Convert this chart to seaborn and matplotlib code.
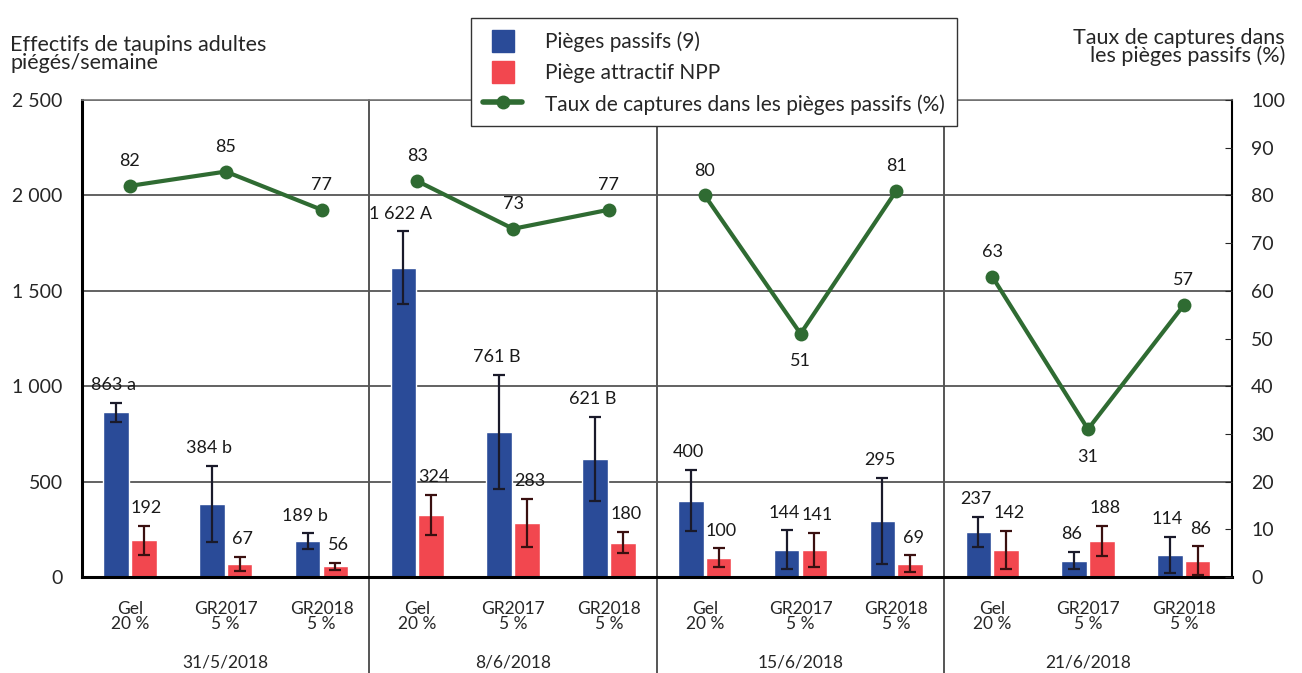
import matplotlib.pyplot as plt
import matplotlib.ticker as mticker
from matplotlib.lines import Line2D
from matplotlib.patches import Patch, Rectangle
from matplotlib.legend_handler import HandlerPatch
import pandas as pd
import seaborn as sns


dates = ["31/5/2018", "8/6/2018", "15/6/2018", "21/6/2018"]
treatments = ["Gel\n20 %", "GR2017\n5 %", "GR2018\n5 %"]

passifs = [863, 384, 189, 1622, 761, 621, 400, 144, 295, 237, 86, 114]
passifs_err = [50, 200, 40, 190, 300, 220, 160, 100, 225, 80, 45, 95]
passifs_lbl = ["863 a", "384 b", "189 b", "1 622 A", "761 B", "621 B",
               "400", "144", "295", "237", "86", "114"]

npp = [192, 67, 56, 324, 283, 180, 100, 141, 69, 142, 188, 86]
npp_err = [75, 38, 18, 105, 125, 55, 50, 90, 45, 100, 80, 75]

taux = [82, 85, 77, 83, 73, 77, 80, 51, 81, 63, 31, 57]

blue = "#2a4b98"
red = "#f2474f"
green = "#2f6b32"

n = len(passifs)
pos = list(range(n))
date_of = [d for d in dates for _ in treatments]

df = pd.DataFrame({
    "pos": pos * 2,
    "val": passifs + npp,
    "piege": ["Pièges passifs (9)"] * n + ["Piège attractif NPP"] * n,
})
df_taux = pd.DataFrame({"pos": pos, "taux": taux, "date": date_of})

sns.set_style("white")
plt.rcParams['font.family'] = ['Lato', 'DejaVu Sans']

fig = plt.figure(figsize=(13.02, 6.73), dpi=100)
ax = fig.add_axes([0.063, 0.1426, 0.883, 0.7088])

sns.barplot(data=df, x="pos", y="val", hue="piege", palette=[blue, red],
            width=0.58, gap=0.08, errorbar=None, ax=ax, legend=False, saturation=1)

# error bars and value labels on top of each bar
for cont, errs, col, lbls, dx in [(ax.containers[0], passifs_err, "#1a1a2a", passifs_lbl, -2),
                                  (ax.containers[1], npp_err, "#3a1010", [str(v) for v in npp], 2)]:
    for p, e, lb in zip(cont.patches, errs, lbls):
        xc = p.get_x() + p.get_width() / 2
        h = p.get_height()
        ax.errorbar(xc, h, yerr=e, fmt="none", ecolor=col, elinewidth=1.6,
                    capsize=4, capthick=1.6, zorder=3)
        ax.annotate(lb, (xc, h + e), xytext=(dx, 7), textcoords="offset points",
                    ha="center", va="bottom", fontsize=13, color="#1a1a1a")

ax.set_xlim(-0.5, n - 0.5)
ax.set_ylim(0, 2500)
ax.set_yticks(range(0, 2501, 500))
ax.yaxis.set_major_formatter(mticker.FuncFormatter(lambda v, _: f"{v:,.0f}".replace(",", " ")))
ax.yaxis.grid(True, color="#555555", lw=1.3)
ax.set_axisbelow(True)
ax.set_xticks(pos)
ax.set_xticklabels(treatments * len(dates), fontsize=12.5, linespacing=0.95)
ax.tick_params(axis="x", length=0, pad=17)
ax.tick_params(axis="y", length=0, pad=14, labelsize=14)
ax.set_xlabel("")
ax.set_ylabel("")
for s in ["left", "bottom"]:
    ax.spines[s].set_color("black")
    ax.spines[s].set_linewidth(2.2)
ax.spines["top"].set_color("#777777")
ax.spines["top"].set_linewidth(1.2)
ax.spines["right"].set_color("black")
ax.spines["right"].set_linewidth(1.5)

# separators between dates + date labels
for k in range(1, len(dates)):
    xs = k * len(treatments) - 0.5
    ax.add_line(Line2D([xs, xs], [-0.21, 1], transform=ax.get_xaxis_transform(),
                       color="#555555", lw=1.4, clip_on=False))
for k, d in enumerate(dates):
    xc = k * len(treatments) + 1
    ax.text(xc, -0.18, d, transform=ax.get_xaxis_transform(),
            ha="center", va="center", fontsize=12.5)

ax2 = ax.twinx()
sns.lineplot(data=df_taux, x="pos", y="taux", units="date", estimator=None,
             color=green, lw=3, marker="o", markersize=10, markeredgewidth=0,
             ax=ax2, legend=False)
ax2.set_ylim(0, 100)
ax2.set_yticks(range(0, 101, 10))
ax2.tick_params(axis="y", direction="in", length=5, pad=14, labelsize=14)
ax2.set_ylabel("")
for s in ax2.spines.values():
    s.set_visible(False)

below = {7, 10}
for x, t in zip(pos, taux):
    off = (0, -14) if x in below else (0, 12)
    ax2.annotate(str(t), (x, t), xytext=off, textcoords="offset points",
                 ha="center", va="top" if x in below else "bottom",
                 fontsize=13, color="#1a1a1a")

fig.text(0.008, 0.948, "Effectifs de taupins adultes\npiégés/semaine",
         ha="left", va="top", fontsize=15.5, linespacing=0.85)
fig.text(0.987, 0.958, "Taux de captures dans\nles pièges passifs (%)",
         ha="right", va="top", fontsize=15.5, linespacing=0.85)


def square_patch(legend, orig_handle, xdescent, ydescent, width, height, fontsize):
    s = height
    return Rectangle((-xdescent + (width - s) / 2, -ydescent), s, s)


handles = [Patch(color=blue, label="Pièges passifs (9)"),
           Patch(color=red, label="Piège attractif NPP"),
           Line2D([], [], color=green, lw=4, marker="o", markersize=9,
                  label="Taux de captures dans les pièges passifs (%)")]
leg = fig.legend(handles=handles, loc="upper left", bbox_to_anchor=(0.354, 0.988),
                 fontsize=15, frameon=True, fancybox=False, framealpha=1,
                 edgecolor="#333333", handlelength=1.9, handleheight=1.25,
                 labelspacing=0.45, borderpad=0.55, handletextpad=1.1,
                 handler_map={Patch: HandlerPatch(patch_func=square_patch)})
leg.get_frame().set_linewidth(1.0)
leg.set_zorder(10)

fig.savefig("out.png", dpi=100)
